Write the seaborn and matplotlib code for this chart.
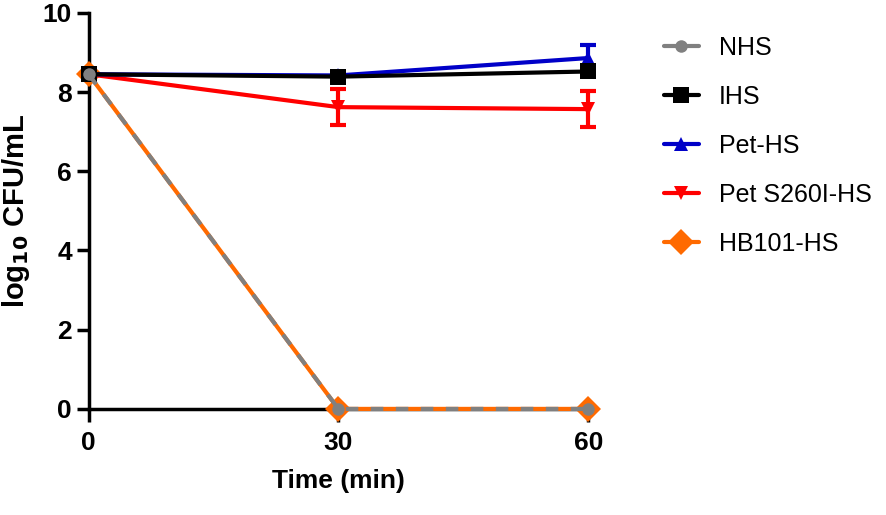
import numpy as np
import pandas as pd
import matplotlib.pyplot as plt
import seaborn as sns

sns.set_style("ticks")
plt.rcParams['font.family'] = ['Liberation Sans', 'DejaVu Sans']

time = [0, 30, 60]
series = ['NHS', 'IHS', 'Pet-HS', 'Pet S260I-HS', 'HB101-HS']
nhs = [8.45, 0.0, 0.0]
ihs = [8.45, 8.39, 8.52]
pet = [8.45, 8.42, 8.86]
pet_s260i = [8.45, 7.62, 7.57]
hb101 = [8.45, 0.0, 0.0]
pet_err = [0.0, 0.05, 0.33]
pet_s260i_err = [0.0, 0.45, 0.45]
ihs_err = [0.0, 0.08, 0.08]

values = {'NHS': nhs, 'IHS': ihs, 'Pet-HS': pet, 'Pet S260I-HS': pet_s260i, 'HB101-HS': hb101}
errors = {'IHS': ihs_err, 'Pet-HS': pet_err, 'Pet S260I-HS': pet_s260i_err}
colors = {'NHS': '#808080', 'IHS': '#000000', 'Pet-HS': '#0000C8',
          'Pet S260I-HS': '#FF0000', 'HB101-HS': '#FF6A00'}
markers = {'NHS': 'o', 'IHS': 's', 'Pet-HS': '^', 'Pet S260I-HS': 'v', 'HB101-HS': 'D'}
msize = {'NHS': 9, 'IHS': 11, 'Pet-HS': 10, 'Pet S260I-HS': 10, 'HB101-HS': 13}

fig = plt.figure(figsize=(8.86, 5.15), dpi=100)
ax = fig.add_axes([0.1, 0.206, 0.564, 0.769])

order = ['HB101-HS', 'Pet S260I-HS', 'Pet-HS', 'IHS', 'NHS']
for i, name in enumerate(order):
    df = pd.DataFrame({'time': time, 'value': values[name]})
    if name in errors:
        ax.errorbar(time, values[name], yerr=errors[name], fmt='none',
                    ecolor=colors[name], elinewidth=3, capsize=5.5, capthick=3,
                    zorder=2 + i, clip_on=False)
    ls = (0, (3, 3)) if name == 'NHS' else '-'
    sns.lineplot(data=df, x='time', y='value', ax=ax, color=colors[name],
                 marker=markers[name], markersize=msize[name], linewidth=3,
                 linestyle=ls, markeredgewidth=0, zorder=3 + i, clip_on=False)

ax.set_xlim(0, 60)
ax.set_ylim(0, 10)
ax.set_xticks([0, 30, 60])
ax.set_yticks([0, 2, 4, 6, 8, 10])
ax.tick_params(width=2.5, length=9, labelsize=19, color='black', labelcolor='black')
for lab in ax.get_xticklabels() + ax.get_yticklabels():
    lab.set_fontweight('bold')
ax.tick_params(axis='x', pad=7)
ax.tick_params(axis='y', pad=3)
sns.despine(ax=ax)
for s in ['left', 'bottom']:
    ax.spines[s].set_linewidth(2.5)
    ax.spines[s].set_color('black')
ax.set_xlabel('Time (min)', fontsize=19, fontweight='bold', labelpad=10, color='black')
ax.set_ylabel('log$_{\\mathbf{10}}$ CFU/mL', fontsize=21, fontweight='bold',
              labelpad=8, color='black')

handles = []
for name in series:
    h = plt.Line2D([], [], color=colors[name], marker=markers[name],
                   markersize=msize[name], linewidth=3, markeredgewidth=0)
    handles.append(h)
leg = fig.legend(handles, series, loc='upper left', bbox_to_anchor=(0.7235, 0.974),
                 frameon=False, fontsize=18, handlelength=1.4, labelspacing=1.0,
                 handletextpad=0.8)
for t in leg.get_texts():
    t.set_color('black')

fig.savefig('out.png', dpi=100)
